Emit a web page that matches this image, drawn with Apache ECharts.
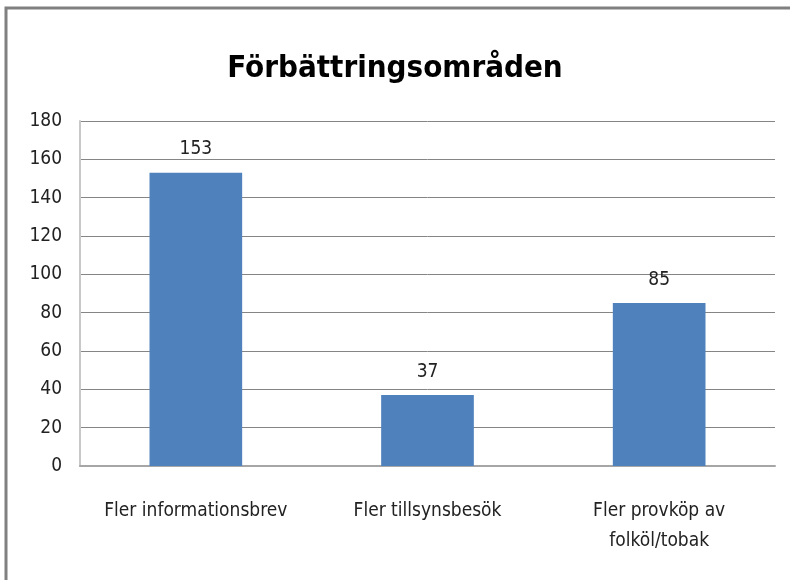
<!DOCTYPE html>
<html>
<head>
<meta charset="utf-8">
<script src="https://cdn.jsdelivr.net/npm/echarts@6/dist/echarts.min.js"></script>
<style>
  html, body { margin: 0; padding: 0; background: #fff; }
  #main { width: 790px; height: 580px; }
</style>
</head>
<body>
<div id="main"></div>
<script>
// data
const categories = ['Fler informationsbrev', 'Fler tillsynsbesök', 'Fler provköp av\nfolköl/tobak'];
const values = [153, 37, 85];

const font = '"DejaVu Sans Condensed", "Liberation Sans Narrow", "Open Sans", sans-serif';

const chart = echarts.init(document.getElementById('main'), null, { renderer: 'canvas' });

chart.setOption({
  animation: false,
  title: {
    text: 'Förbättringsområden',
    left: 'center',
    top: 48,
    textStyle: { fontFamily: font, fontSize: 31, fontWeight: 'bold', color: '#000' }
  },
  graphic: [{
    type: 'rect',
    shape: { x: 6, y: 8, width: 800, height: 600 },
    style: { fill: 'none', stroke: '#808080', lineWidth: 3 },
    silent: true
  }],
  grid: { left: 80, right: 15, top: 121, bottom: 114, containLabel: false },
  xAxis: {
    type: 'category',
    data: categories,
    axisLine: { lineStyle: { color: '#a6a6a6', width: 2 } },
    axisTick: { show: false },
    axisLabel: { fontFamily: font, fontSize: 19, color: '#222', margin: 30, lineHeight: 30, interval: 0 }
  },
  yAxis: {
    type: 'value',
    min: 0,
    max: 180,
    interval: 20,
    axisLine: { show: true, lineStyle: { color: '#c8c8c8', width: 2 } },
    axisTick: { show: false },
    axisLabel: { fontFamily: font, fontSize: 19, color: '#222', margin: 18 },
    splitLine: { lineStyle: { color: '#858585', width: 1 } }
  },
  series: [{
    type: 'bar',
    data: values,
    barWidth: '40%',
    itemStyle: { color: '#4f81bd' },
    label: {
      show: true,
      position: 'top',
      distance: 14,
      fontFamily: font,
      fontSize: 19,
      color: '#222'
    }
  }]
});
</script>
</body>
</html>
